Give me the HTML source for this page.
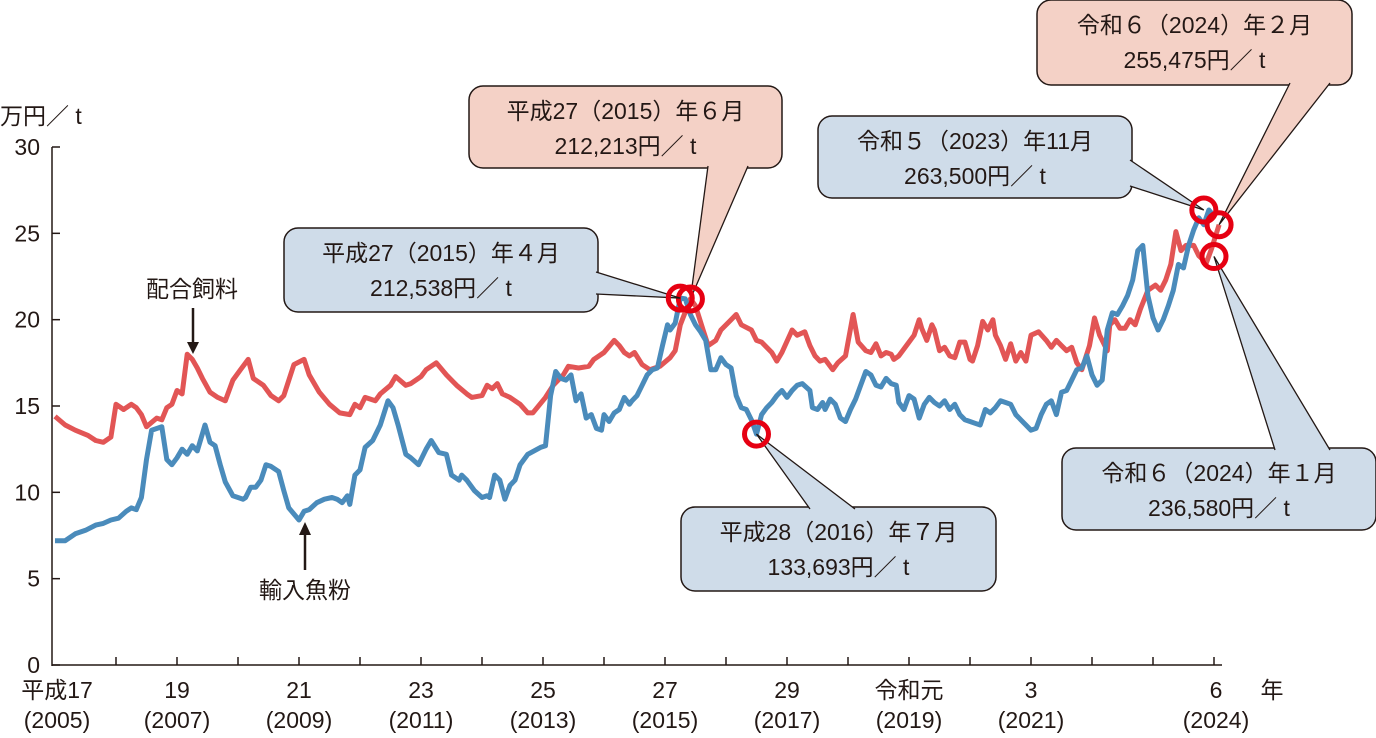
<!DOCTYPE html>
<html><head><meta charset="utf-8"><style>
html,body{margin:0;padding:0;background:#fff;}
svg{display:block;font-family:"Liberation Sans","Noto Sans CJK JP",sans-serif;}
</style></head><body>
<svg id="chart" width="1376" height="738" viewBox="0 0 1376 738" xmlns="http://www.w3.org/2000/svg">
<g id="axes"></g>
<g id="lines"></g>
<g id="notes"></g>
</svg>
<script>
// months since Jan 2005
const feedMonths=[0,2,4,6.5,8,9.5,11,12,13.5,15,16,17,18,20,21,22,23,24,25,26,27,28,29,30.5,32,33.5,35,36.5,38,39,41,42.5,44,45,47,49,50,52,54,56,58,59,60,61,63,64,66,67,69,70,72,73,75,77,79,81,82,84,85,86,87,88,89.5,91.5,93,94,96.5,98,100,101,103,105,106,108,110,111,112,113,114,115.5,117,119,121,122,123,125,126,127.5,128.5,130,131,133,134,135,137,138,139,141,142,143,145,146,147.5,148.5,149.5,150.5,151.5,153,154,155.5,157,158,159.5,160.5,161.5,162.5,163.5,164.5,165,166,168,169,170,170.5,171.5,172.5,173,174,175,176,177,178,179,180,180.5,181.5,182.5,183.5,184.5,185,186,187,188,189,190,191,192,193.5,195,196,197,198,199,200,201,202,203.5,204.5,205.5,207,207.5,208.5,209.5,210.5,211.5,212.5,213.5,215,216.5,217.5,218.5,219.5,220.5,221.5,222.5,224,225,226.5,227.5,229];
const feedValues=[14.4,13.9,13.6,13.3,13.0,12.9,13.2,15.1,14.8,15.1,14.9,14.5,13.8,14.3,14.2,14.9,15.1,15.9,15.7,18.0,17.7,17.2,16.6,15.8,15.5,15.3,16.5,17.1,17.7,16.6,16.2,15.6,15.3,15.6,17.4,17.7,16.8,15.8,15.1,14.6,14.5,15.1,14.9,15.5,15.3,15.7,16.2,16.7,16.2,16.3,16.7,17.1,17.5,16.8,16.2,15.7,15.5,15.6,16.2,16.0,16.3,15.7,15.5,15.1,14.6,14.6,15.5,16.2,16.8,17.3,17.2,17.3,17.7,18.1,18.8,18.5,18.1,17.9,18.1,17.4,17.1,17.3,17.8,18.2,19.7,21.2,20.8,19.4,18.5,18.8,19.4,20.0,20.3,19.7,19.4,18.8,18.7,18.1,17.6,18.1,19.4,19.1,19.3,18.5,17.9,17.6,17.7,17.1,17.5,17.9,20.3,18.7,18.2,18.1,18.6,17.9,18.1,18.0,17.7,17.9,18.7,19.1,20.0,19.5,18.8,19.7,19.4,18.2,18.4,17.9,17.8,18.7,18.7,17.7,17.6,18.5,19.9,19.4,20.0,19.1,18.5,17.7,18.6,17.6,18.1,17.6,19.1,19.3,18.8,18.4,18.8,18.5,18.2,18.4,17.5,17.1,18.5,20.1,19.1,18.2,19.7,20.0,19.5,19.5,20.0,19.7,20.6,21.7,22.0,21.7,22.3,23.2,25.1,24.0,24.3,24.3,23.7,23.3,24.1,25.5];
const fishMonths=[0,2,4,6,8,9.5,11,12.5,14,15,16,17,18,19,21,22,23,24,25,26,27,28,29.5,30.5,31.5,32.5,33.5,35,37,37.5,38.5,39.5,40.5,41.5,42.5,44,45,46,48,49,50,51.5,53,54.5,55.5,56.5,57.5,58,59,60,61,62.5,64,65.5,66.5,67.5,69,70,71.5,73,74,75.5,77,78,79.5,80,81,82.5,84,85,85.5,86.5,87.5,88.5,89.5,90.5,91.5,93,95.5,96.5,97.5,98.5,99.5,100.5,101.5,102.5,103.5,104.5,105.5,106.5,107.5,108,109,110,111,112,113,113.5,114.5,115.5,116.5,117.5,118.5,119.5,120.5,121,122,123,124,125,126,127,128,129,130,131,132,133,134,135,136,137,138,139,140,141,142,143,144,145,146,147,148.5,149,150,151,151.5,152.5,153.5,154.5,155.5,156.5,157.5,158.5,159.5,160.5,161.5,162.5,163.5,164.5,165.5,166,167,168,169,170,171,172,173,174,175,176,177,178,179,180,181,182,183,184,185,186,187,188,189,190,191,192,193,194,195,196,197,198,199,200,201,202,203,204,205,206,206.5,207,208,209,210,211,212,213,214,215,216,217,218,219,220,221,222,223,224,225,226,227,228];
const fishValues=[7.2,7.2,7.6,7.8,8.1,8.2,8.4,8.5,8.9,9.1,9.0,9.7,11.9,13.6,13.8,11.9,11.6,12.0,12.5,12.2,12.7,12.4,13.9,12.9,12.7,11.6,10.6,9.8,9.6,9.7,10.3,10.3,10.7,11.6,11.5,11.2,10.1,9.1,8.4,8.9,9.0,9.4,9.6,9.7,9.6,9.4,9.8,9.3,11.0,11.3,12.6,13.0,13.9,15.3,14.9,13.9,12.2,12.0,11.6,12.5,13.0,12.3,12.2,11.0,10.7,11.0,10.7,10.1,9.7,9.8,9.7,11.0,10.7,9.6,10.4,10.7,11.6,12.2,12.6,12.7,15.6,17.0,16.6,16.5,16.8,15.3,15.7,14.3,14.5,13.7,13.6,14.5,14.1,14.6,14.8,15.5,15.1,15.3,15.6,16.2,16.8,17.1,17.2,18.5,19.7,19.4,19.8,21.25,21.2,20.3,19.7,19.3,18.8,17.1,17.1,17.8,17.4,17.2,15.6,14.9,14.8,14.2,13.37,14.5,14.9,15.2,15.6,15.9,15.5,15.9,16.2,16.3,15.9,14.9,14.8,15.2,14.8,15.4,15.1,14.3,14.1,14.8,15.4,16.2,17.0,16.8,16.2,16.1,16.6,16.3,16.2,15.2,14.8,15.6,15.4,14.3,15.1,15.5,15.2,15.0,15.3,14.8,15.1,14.5,14.2,14.1,14.0,13.9,14.8,14.6,14.9,15.3,15.2,15.1,14.5,14.2,13.9,13.6,13.7,14.5,15.1,15.3,14.5,15.8,15.9,16.5,17.1,17.2,17.9,16.8,16.2,16.5,17.9,19.4,20.4,20.3,20.8,21.4,22.3,24.0,24.3,21.4,20.1,19.4,20.0,20.8,21.7,23.2,23.0,24.3,25.2,25.9,25.5,26.35,26.0,23.66];
const yTicks=[0,5,10,15,20,25,30];
const xLabelYears=[0,2,4,6,8,10,12,14,16];
const xLabelTop=["平成17","19","21","23","25","27","29","令和元","3"];
const xLabelBottom=["(2005)","(2007)","(2009)","(2011)","(2013)","(2015)","(2017)","(2019)","(2021)"];

const NS="http://www.w3.org/2000/svg";
function X(m){return 55+m*61/12;}
function Y(v){return 665-v*518/30;}
function el(tag,attrs,parent,text){const e=document.createElementNS(NS,tag);for(const k in attrs)e.setAttribute(k,attrs[k]);if(text!==undefined)e.textContent=text;parent.appendChild(e);return e;}
const axes=document.getElementById('axes'),lines=document.getElementById('lines'),notes=document.getElementById('notes');

let a=el('line',{x1:52,y1:147,x2:52,y2:666,stroke:'#231815','stroke-width':1.5},axes);


a=el('line',{x1:52,y1:665,x2:1222,y2:665,stroke:'#231815','stroke-width':1.5},axes);


yTicks.forEach(v=>{
 const t=el('line',{x1:52,y1:Y(v),x2:60,y2:Y(v),stroke:'#231815','stroke-width':1.5},axes);
 
 
 const l=el('text',{x:40,y:Y(v)+8,'font-size':23,'text-anchor':'end',fill:'#231815'},axes,String(v));
 
 
});
for(let yr=1;yr<=19;yr++){
 const t=el('line',{x1:X(yr*12),y1:657,x2:X(yr*12),y2:665,stroke:'#231815','stroke-width':1.5},axes);
 
 
}
xLabelYears.forEach((yy,i)=>{
 const cx=X(yy*12)+(i==0?2:0);
 const a1=el('text',{x:cx,y:698,'font-size':23,'text-anchor':'middle',fill:'#231815'},axes,xLabelTop[i]);
 
 
 const a2=el('text',{x:cx,y:728,'font-size':23,'text-anchor':'middle',fill:'#231815'},axes,xLabelBottom[i]);
 
 
});
let t6=el('text',{x:1216,y:698,'font-size':23,'text-anchor':'middle',fill:'#231815'},axes,'6');


t6=el('text',{x:1216,y:728,'font-size':23,'text-anchor':'middle',fill:'#231815'},axes,'(2024)');


let tn=el('text',{x:1272,y:698,'font-size':23,'text-anchor':'middle',fill:'#231815'},axes,'年');


tn=el('text',{x:0,y:124,'font-size':23,fill:'#231815'},axes,'万円／ t');



function path(ms,vs){return ms.map((m,i)=>(i?'L':'M')+X(m).toFixed(1)+','+Y(vs[i]).toFixed(1)).join('');}
let p=el('path',{d:path(feedMonths,feedValues),fill:'none',stroke:'#e25555','stroke-width':5,'stroke-linejoin':'round'},lines);


p=el('path',{d:path(fishMonths,fishValues),fill:'none',stroke:'#4a8bbb','stroke-width':5,'stroke-linejoin':'round'},lines);



// series labels
let s=el('text',{x:192,y:297,'font-size':23,'text-anchor':'middle',fill:'#231815'},notes,'配合飼料');


el('line',{x1:193,y1:308,x2:193,y2:345,stroke:'#231815','stroke-width':2.5},notes);
el('path',{d:'M187,342 L199,342 L193,354 Z',fill:'#231815'},notes);
s=el('text',{x:305,y:598,'font-size':23,'text-anchor':'middle',fill:'#231815'},notes,'輸入魚粉');


el('line',{x1:305,y1:570,x2:305,y2:532,stroke:'#231815','stroke-width':2.5},notes);
el('path',{d:'M299,535 L311,535 L305,522 Z',fill:'#231815'},notes);

// callouts: [m, v, box x,y,w,h, pointer base pts, fill, line1, line2, name]
const calls=[
 [125,21.2,469,86,313,82,[[708,166],[748,166]],'#f4d1c6','平成27（2015）年６月','212,213円／ t','callout-2015-06'],
 [123,21.25,284,228,314,84,[[596,272],[596,294]],'#cfdce9','平成27（2015）年４月','212,538円／ t','callout-2015-04'],
 [138,13.37,681,507,315,84,[[810,509],[855,509]],'#cfdce9','平成28（2016）年７月','133,693円／ t','callout-2016-07'],
 [226,26.35,818,116,314,82,[[1130,160],[1130,186]],'#cfdce9','令和５（2023）年11月','263,500円／ t','callout-2023-11'],
 [229,25.5,1037,0,315,85,[[1290,83],[1330,83]],'#f4d1c6','令和６（2024）年２月','255,475円／ t','callout-2024-02'],
 [228,23.66,1062,448,314,82,[[1275,450],[1330,450]],'#cfdce9','令和６（2024）年１月','236,580円／ t','callout-2024-01']
];
calls.forEach(c=>{
 const g=el('g',{},notes);
 
 
 const px=X(c[0]),py=Y(c[1]);
 el('rect',{x:c[2],y:c[3],width:c[4],height:c[5],rx:14,fill:c[7],stroke:'#231815','stroke-width':1.5},g);
 el('path',{d:`M${c[6][0][0]},${c[6][0][1]} L${px},${py} L${c[6][1][0]},${c[6][1][1]} Z`,fill:c[7],stroke:'none'},g);
 el('path',{d:`M${c[6][0][0]},${c[6][0][1]} L${px},${py} L${c[6][1][0]},${c[6][1][1]}`,fill:'none',stroke:'#231815','stroke-width':1.3},g);
 el('text',{x:c[2]+c[4]/2,y:c[3]+33,'font-size':23,'text-anchor':'middle',fill:'#231815'},g,c[8]);
 el('text',{x:c[2]+c[4]/2,y:c[3]+68,'font-size':23,'text-anchor':'middle',fill:'#231815'},g,c[9]);
 const ci=el('circle',{cx:px,cy:py,r:12,fill:'none',stroke:'#e60012','stroke-width':5},notes);
 
 
});
</script>
</body></html>
